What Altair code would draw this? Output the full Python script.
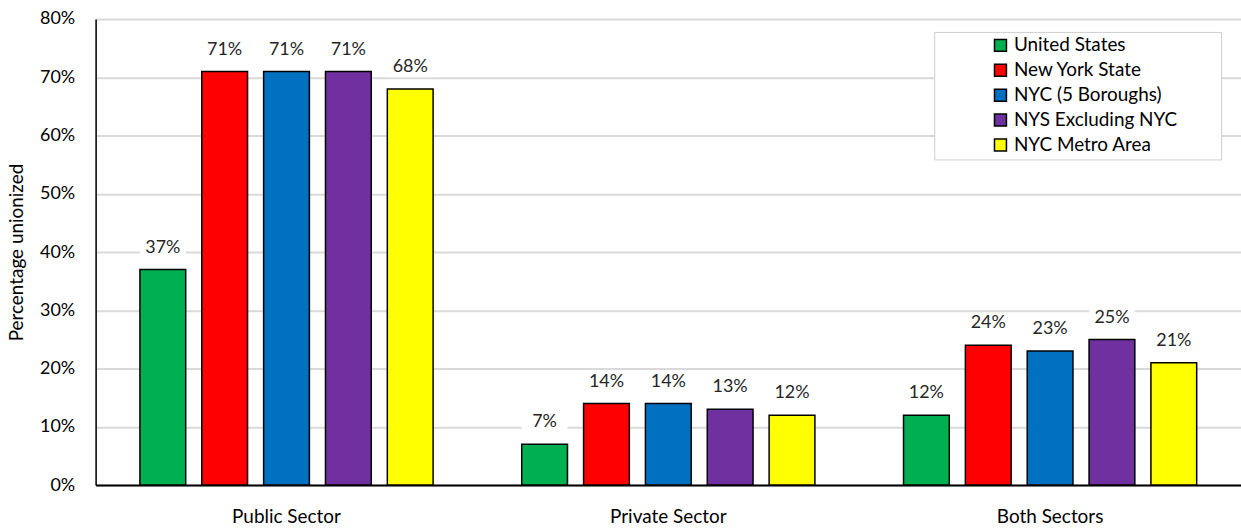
import altair as alt
import pandas as pd

sectors = ["Public Sector", "Private Sector", "Both Sectors"]
series = ["United States", "New York State", "NYC (5 Boroughs)", "NYS Excluding NYC", "NYC Metro Area"]
colors = ["#00B050", "#FF0000", "#0070C0", "#7030A0", "#FFFF00"]
public_vals = [37, 71, 71, 71, 68]
private_vals = [7, 14, 14, 13, 12]
both_vals = [12, 24, 23, 25, 21]
y_ticks = [0, 10, 20, 30, 40, 50, 60, 70, 80]

rows = []
for sec, vals in zip(sectors, [public_vals, private_vals, both_vals]):
    for s, v in zip(series, vals):
        rows.append({"sector": sec, "series": s, "value": v})
df = pd.DataFrame(rows)

FONT = "Lato"
PAD = "\u00a0" * 8 + "\u200b"

x_enc = alt.X("sector:N", sort=sectors, title=None,
              scale=alt.Scale(paddingInner=0.19, paddingOuter=0.095),
              axis=alt.Axis(labelAngle=0, ticks=False, labelPadding=23, labelFontSize=19,
                            labelColor="#000000", labelFont=FONT, domainColor="#000000",
                            domainWidth=2))
xo_enc = alt.XOffset("series:N", sort=series,
                     scale=alt.Scale(paddingInner=0.26, paddingOuter=0.13))

base = alt.Chart(df)

bars = base.mark_bar(stroke="#000000", strokeWidth=1.5).encode(
    x=x_enc,
    xOffset=xo_enc,
    y=alt.Y("value:Q", title="Percentage unionized",
            scale=alt.Scale(domain=[0, 80], nice=False),
            axis=alt.Axis(values=y_ticks, labelExpr="datum.value + '%'", ticks=False,
                          labelPadding=21, labelFontSize=18, labelColor="#000000",
                          labelFont=FONT, gridColor="#d9d9d9", gridWidth=2,
                          domainColor="#000000", domainWidth=1.5,
                          titleFont=FONT, titleFontSize=19, titleFontWeight="normal",
                          titleColor="#000000", titleX=-79, titleY=234, titleAngle=-90,
                          titleAlign="center", titleBaseline="middle")),
    color=alt.Color("series:N", sort=series,
                    scale=alt.Scale(domain=series, range=colors),
                    legend=alt.Legend(title=None, orient="none", legendX=842, legendY=13,
                                      padding=4, fillColor="#ffffff", strokeColor="#d0d0d0",
                                      symbolType="square", symbolSize=144,
                                      symbolStrokeColor="#000000", symbolStrokeWidth=1.5,
                                      symbolOffset=53, labelOffset=4,
                                      labelFontSize=19, labelFont=FONT, labelColor="#000000",
                                      rowPadding=5, labelLimit=500,
                                      labelExpr="datum.label + '" + PAD + "'")),
)

boxes = base.transform_calculate(
    lo="datum.value + 2.0", hi="datum.value + 5.5"
).mark_bar(color="#ffffff").encode(
    x=alt.X("sector:N", sort=sectors),
    xOffset=xo_enc,
    y=alt.Y("lo:Q"),
    y2="hi:Q",
)

labels = base.transform_calculate(
    lab="datum.value + '%'"
).mark_text(dy=-22, fontSize=18, font=FONT, color="#262626", baseline="middle").encode(
    x=alt.X("sector:N", sort=sectors),
    xOffset=xo_enc,
    y=alt.Y("value:Q"),
    text="lab:N",
)

chart = alt.layer(bars, boxes, labels).properties(
    width=1150, height=468,
    autosize=alt.AutoSizeParams(type="none"),
    padding={"left": 96, "top": 18, "right": 0, "bottom": 45},
).configure_view(stroke="#595959", strokeWidth=1).configure(background="#ffffff")

chart.save("out.html", embed_options={"renderer": "svg", "actions": False})
